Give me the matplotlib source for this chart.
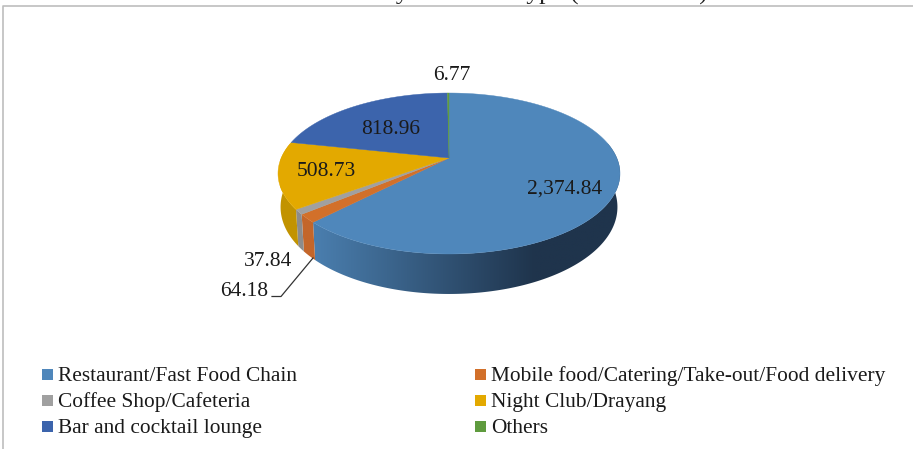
import numpy as np
import matplotlib
matplotlib.use("Agg")
import matplotlib.pyplot as plt
from matplotlib.patches import Rectangle, Polygon
from matplotlib.colors import to_rgb

categories = ["Restaurant/Fast Food Chain", "Mobile food/Catering/Take-out/Food delivery",
              "Coffee Shop/Cafeteria", "Night Club/Drayang", "Bar and cocktail lounge", "Others"]
values = [2374.84, 64.18, 37.84, 508.73, 818.96, 6.77]
value_labels = ["2,374.84", "64.18", "37.84", "508.73", "818.96", "6.77"]
colors = ["#4f87bb", "#d2702a", "#a0a0a0", "#e3a900", "#3c64ac", "#5f9b3e"]
side_left = ["#4a7eae", "#c4662a", "#8c8c8c", "#c29300", "#33558f", "#4f8a33"]
side_right = ["#1f344c", "#c0622a", "#888888", "#c99a00", "#1f3a66", "#2f5a1e"]

W, H = 913, 449
plt.rcParams["font.family"] = ["Liberation Serif", "DejaVu Serif"]
fig = plt.figure(figsize=(W/100, H/100), dpi=100, facecolor="white")
ax = fig.add_axes([0, 0, 1, 1])
ax.set_xlim(0, W); ax.set_ylim(H, 0); ax.axis("off")

CX, CY, R, HH, K = 449, 158, 167.8, 77.5, 0.1925

def project(theta, side=False):
    u, v = np.sin(theta), np.cos(theta)
    w = 1 + K*v
    x = CX + R*u/w
    y = CY - HH*v/w
    if side:
        x = CX + (x - CX)*0.985
        y = y + (32 - 8*v)
    return x, y

# frame
ax.plot([3, 3, W], [H, 5.5, 5.5], color="#bdbdbd", lw=1.2, zorder=1)

# title, cut off by the top edge as in the reference
ax.text(322, 0, "Sales by Business Type (RM million)", fontsize=18.5, ha="left", va="baseline", color="#222222", clip_on=False)

edges = np.concatenate([[0], np.cumsum(values)]) / np.sum(values) * 2*np.pi

# sides: front half only, gradient clipped to the side polygon
for i in range(len(values)):
    a0, a1 = edges[i], edges[i+1]
    lo, hi = max(a0, np.pi/2 - 0.2), min(a1, 3*np.pi/2 + 0.2)
    if hi <= lo:
        continue
    ts = np.linspace(lo, hi, 200)
    xt, yt = project(ts); xb, yb = project(ts, True)
    poly = Polygon(np.c_[np.r_[xt, xb[::-1]], np.r_[yt, yb[::-1]]], closed=True,
                   facecolor="none", edgecolor="none", transform=ax.transData)
    ax.add_patch(poly)
    f = np.clip((np.linspace(280, 625, 256) - 315) / (535 - 315), 0, 1)[None, :, None]
    img = (1-f)*np.array(to_rgb(side_left[i]))[None, None, :] + f*np.array(to_rgb(side_right[i]))[None, None, :]
    im = ax.imshow(img, extent=(280, 625, 300, 100), aspect="auto", interpolation="bilinear", zorder=2)
    im.set_clip_path(poly)
ax.set_xlim(0, W); ax.set_ylim(H, 0)

# top
for i in range(len(values)):
    ts = np.linspace(edges[i], edges[i+1], max(3, int((edges[i+1]-edges[i])*80)))
    xs, ys = project(ts)
    ax.fill(np.r_[CX, xs], np.r_[CY, ys], color=colors[i], lw=0.3, zorder=3)

# labels
fs = 15.5
ink = "#1a1a1a"
ax.text(565, 189, value_labels[0], fontsize=fs, ha="center", va="center", color=ink, zorder=5)
ax.text(391, 129, value_labels[4], fontsize=fs, ha="center", va="center", color=ink, zorder=5)
ax.text(326, 172, value_labels[3], fontsize=fs, ha="center", va="center", color=ink, zorder=5)
ax.text(452, 75, value_labels[5], fontsize=fs, ha="center", va="center", color=ink, zorder=5)
ax.text(268, 262, value_labels[2], fontsize=fs, ha="center", va="center", color=ink, zorder=5)
ax.text(244, 291, value_labels[1], fontsize=fs, ha="center", va="center", color=ink, zorder=5)
ax.plot([272, 281, 313], [296.5, 296.5, 258], color="#333333", lw=0.9, zorder=5)

# legend
rows = [374, 400, 426]
cols = [(42, 58), (475, 491)]
for i, name in enumerate(categories):
    r, c = i // 2, i % 2
    ax.add_patch(Rectangle((cols[c][0], rows[r]-5), 11, 11, facecolor=colors[i], edgecolor="none", zorder=4))
    ax.text(cols[c][1], rows[r]+2.5, name, fontsize=15.4, ha="left", va="baseline" if False else "center", color=ink)

fig.savefig("out.png", dpi=100)
